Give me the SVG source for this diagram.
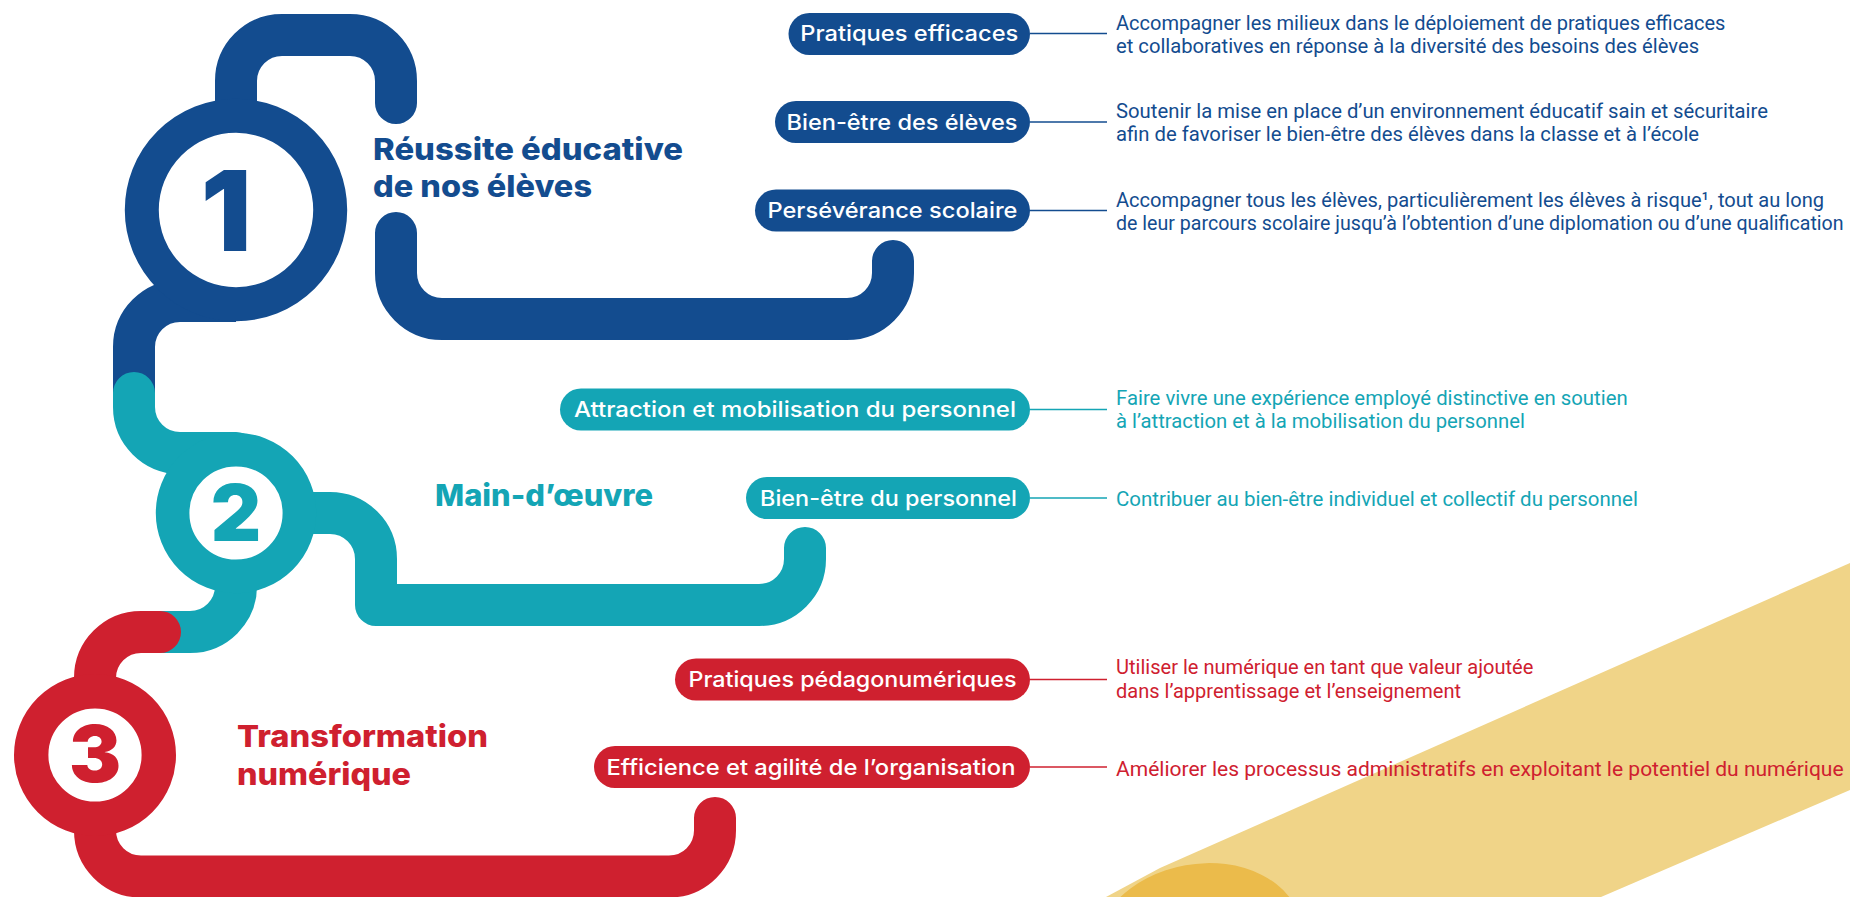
<svg xmlns="http://www.w3.org/2000/svg" width="1850" height="897" viewBox="0 0 1850 897">
  <style>
    .track { fill: none; stroke-width: 42; stroke-linecap: round; stroke-linejoin: round; }
    .ring { fill: #ffffff; }
    .digit { font-family: Inter, "Liberation Sans", sans-serif; font-weight: 900; text-anchor: middle; }
    .title { font-family: Inter, "Liberation Sans", sans-serif; font-weight: 800; font-size: 30px; }
    .pill-label { font-family: Inter, "Open Sans", sans-serif; font-weight: 500; font-size: 21.5px; fill: #ffffff; text-anchor: middle; }
    .desc { font-family: Roboto, "Liberation Sans", sans-serif; font-size: 21px; }
    .link { stroke-width: 1.6; fill: none; }
    .blue { fill: #134c8f; }
    .teal { fill: #14a5b5; }
    .red { fill: #cf202f; }
    .s-blue { stroke: #134c8f; }
    .s-teal { stroke: #14a5b5; }
    .s-red { stroke: #cf202f; }
  </style>

  <!-- decorative yellow tube, lower right -->
  <g id="yellow-tube">
    <polygon points="1106,897 1160,868 1850,563 1850,790 1601,897" fill="#f0d488"/>
    <ellipse cx="1199" cy="942" rx="104" ry="78" transform="rotate(-10 1199 942)" fill="#ebbb4b"/>
  </g>

  <!-- winding tracks linking the three themes -->
  <g id="tracks">
    <path class="track s-blue" d="M236 210 V81 A46 46 0 0 1 282 35 H350 A46 46 0 0 1 396 81 V103"/>
    <path class="track s-blue" d="M396 233 V273 A46 46 0 0 0 442 319 H847 A46 46 0 0 0 893 273 V261"/>
    <path class="track s-blue" style="stroke-linecap: butt" d="M236 301 H180 A46 46 0 0 0 134 347 V393"/>
    <path class="track s-teal" d="M134 393 V407 A46 46 0 0 0 180 453 H236"/>
    <path class="track s-teal" d="M236 513 H330 A46 46 0 0 1 376 559 V605 H759 A46 46 0 0 0 805 559 V548"/>
    <path class="track s-teal" style="stroke-linecap: butt" d="M236 513 V586 A46 46 0 0 1 190 632 H160"/>
    <path class="track s-red" d="M160 632 H141 A46 46 0 0 0 95 678 V830.5 A46 46 0 0 0 141 876.5 H669 A46 46 0 0 0 715 830.5 V818"/>
  </g>

  <!-- theme 1 -->
  <g id="theme-1">
    <circle class="ring s-blue" cx="236" cy="210" r="94.2" stroke-width="34"/>
    <text class="digit blue" x="226" y="251" font-size="112">1</text>
    <text class="title blue" x="373" y="160" textLength="310" lengthAdjust="spacingAndGlyphs">Réussite éducative</text>
    <text class="title blue" x="373" y="197" textLength="219" lengthAdjust="spacingAndGlyphs">de nos élèves</text>
  </g>

  <!-- theme 2 -->
  <g id="theme-2">
    <circle class="ring s-teal" cx="236" cy="513" r="63.4" stroke-width="33.6"/>
    <text class="digit teal" x="236" y="541" font-size="78">2</text>
    <text class="title teal" x="435" y="506" textLength="218" lengthAdjust="spacingAndGlyphs">Main-d’œuvre</text>
  </g>

  <!-- theme 3 -->
  <g id="theme-3">
    <circle class="ring s-red" cx="95" cy="755" r="63.8" stroke-width="34.4"/>
    <text class="digit red" x="95" y="782" font-size="78">3</text>
    <text class="title red" x="237" y="747" textLength="251" lengthAdjust="spacingAndGlyphs">Transformation</text>
    <text class="title red" x="237" y="785" textLength="174" lengthAdjust="spacingAndGlyphs">numérique</text>
  </g>

  <!-- pill labels -->
  <g id="pill-pratiques-efficaces">
    <rect class="blue" x="788.5" y="13" width="241.5" height="42" rx="21"/>
    <text class="pill-label" x="909.3" y="41" textLength="218" lengthAdjust="spacingAndGlyphs">Pratiques efficaces</text>
  </g>
  <g id="pill-bien-etre-eleves">
    <rect class="blue" x="775" y="101" width="255" height="42" rx="21"/>
    <text class="pill-label" x="902" y="129.5" textLength="231" lengthAdjust="spacingAndGlyphs">Bien-être des élèves</text>
  </g>
  <g id="pill-perseverance">
    <rect class="blue" x="755" y="189.5" width="275" height="42" rx="21"/>
    <text class="pill-label" x="892.5" y="218" textLength="250" lengthAdjust="spacingAndGlyphs">Persévérance scolaire</text>
  </g>
  <g id="pill-attraction">
    <rect class="teal" x="560" y="388.5" width="470" height="42" rx="21"/>
    <text class="pill-label" x="795" y="417" textLength="442" lengthAdjust="spacingAndGlyphs">Attraction et mobilisation du personnel</text>
  </g>
  <g id="pill-bien-etre-personnel">
    <rect class="teal" x="746" y="477" width="284" height="42" rx="21"/>
    <text class="pill-label" x="888.5" y="505.5" textLength="257" lengthAdjust="spacingAndGlyphs">Bien-être du personnel</text>
  </g>
  <g id="pill-pedagonumeriques">
    <rect class="red" x="675" y="658.5" width="355" height="42" rx="21"/>
    <text class="pill-label" x="852.5" y="687" textLength="328" lengthAdjust="spacingAndGlyphs">Pratiques pédagonumériques</text>
  </g>
  <g id="pill-efficience">
    <rect class="red" x="594" y="746" width="436" height="42" rx="21"/>
    <text class="pill-label" x="811" y="774.5" textLength="409" lengthAdjust="spacingAndGlyphs">Efficience et agilité de l’organisation</text>
  </g>

  <!-- connectors from pills to their descriptions -->
  <g id="connectors">
    <line class="link s-blue" x1="1030" y1="33.5" x2="1107" y2="33.5"/>
    <line class="link s-blue" x1="1030" y1="122" x2="1107" y2="122"/>
    <line class="link s-blue" x1="1030" y1="210.5" x2="1107" y2="210.5"/>
    <line class="link s-teal" x1="1030" y1="409.5" x2="1107" y2="409.5"/>
    <line class="link s-teal" x1="1030" y1="498" x2="1107" y2="498"/>
    <line class="link s-red" x1="1030" y1="679.5" x2="1107" y2="679.5"/>
    <line class="link s-red" x1="1030" y1="767" x2="1107" y2="767"/>
  </g>

  <!-- descriptions: narrow lettering obtained by a horizontal squeeze of 0.85 -->
  <g id="desc-pratiques-efficaces" class="desc blue" transform="translate(1116 0) scale(0.85 1)">
    <text x="0" y="30.5" textLength="717" lengthAdjust="spacingAndGlyphs">Accompagner les milieux dans le déploiement de pratiques efficaces</text>
    <text x="0" y="53.5" textLength="686" lengthAdjust="spacingAndGlyphs">et collaboratives en réponse à la diversité des besoins des élèves</text>
  </g>
  <g id="desc-bien-etre-eleves" class="desc blue" transform="translate(1116 0) scale(0.85 1)">
    <text x="0" y="118.5" textLength="767" lengthAdjust="spacingAndGlyphs">Soutenir la mise en place d’un environnement éducatif sain et sécuritaire</text>
    <text x="0" y="141.5" textLength="686" lengthAdjust="spacingAndGlyphs">afin de favoriser le bien-être des élèves dans la classe et à l’école</text>
  </g>
  <g id="desc-perseverance" class="desc blue" transform="translate(1116 0) scale(0.85 1)">
    <text x="0" y="207" textLength="833" lengthAdjust="spacingAndGlyphs">Accompagner tous les élèves, particulièrement les élèves à risque¹, tout au long</text>
    <text x="0" y="230" textLength="856" lengthAdjust="spacingAndGlyphs">de leur parcours scolaire jusqu’à l’obtention d’une diplomation ou d’une qualification</text>
  </g>
  <g id="desc-attraction" class="desc teal" transform="translate(1116 0) scale(0.85 1)">
    <text x="0" y="405" textLength="602" lengthAdjust="spacingAndGlyphs">Faire vivre une expérience employé distinctive en soutien</text>
    <text x="0" y="428.5" textLength="481" lengthAdjust="spacingAndGlyphs">à l’attraction et à la mobilisation du personnel</text>
  </g>
  <g id="desc-bien-etre-personnel" class="desc teal" transform="translate(1116 0) scale(0.85 1)">
    <text x="0" y="506" textLength="614" lengthAdjust="spacingAndGlyphs">Contribuer au bien-être individuel et collectif du personnel</text>
  </g>
  <g id="desc-pedagonumeriques" class="desc red" transform="translate(1116 0) scale(0.85 1)">
    <text x="0" y="674.5" textLength="491" lengthAdjust="spacingAndGlyphs">Utiliser le numérique en tant que valeur ajoutée</text>
    <text x="0" y="698" textLength="406" lengthAdjust="spacingAndGlyphs">dans l’apprentissage et l’enseignement</text>
  </g>
  <g id="desc-efficience" class="desc red" transform="translate(1116 0) scale(0.85 1)">
    <text x="0" y="776" textLength="856" lengthAdjust="spacingAndGlyphs">Améliorer les processus administratifs en exploitant le potentiel du numérique</text>
  </g>
</svg>
